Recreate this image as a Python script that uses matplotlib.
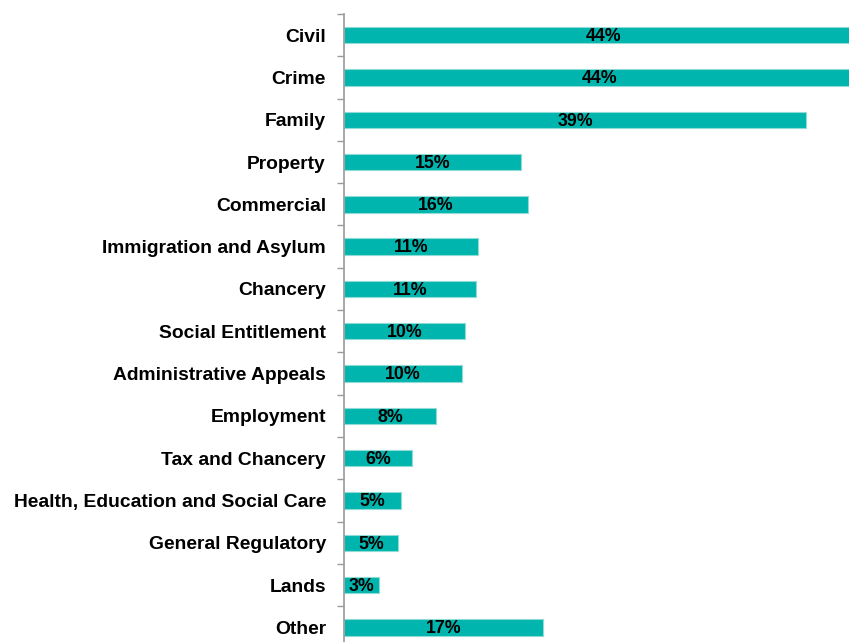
import matplotlib.pyplot as plt
import numpy as np

categories = ["Civil", "Crime", "Family", "Property", "Commercial",
              "Immigration and Asylum", "Chancery", "Social Entitlement",
              "Administrative Appeals", "Employment", "Tax and Chancery",
              "Health, Education and Social Care", "General Regulatory",
              "Lands", "Other"]
values = [44.4, 43.6, 39.5, 15.1, 15.7, 11.45, 11.3, 10.3, 10.1, 7.9,
          5.8, 4.9, 4.6, 3.0, 17.0]
labels = ["44%", "44%", "39%", "15%", "16%", "11%", "11%", "10%", "10%",
          "8%", "6%", "5%", "5%", "3%", "17%"]

plt.rcParams['font.family'] = ['Liberation Sans', 'DejaVu Sans']

fig = plt.figure(figsize=(8.49, 6.42), dpi=100)
ax_h = 634.5 / 642
ax = fig.add_axes([344 / 849, 1 - 14 / 642 - ax_h, 1 - 344 / 849, ax_h])

y = np.arange(len(categories))
ax.barh(y, values, height=0.39, color='#00b5ad', edgecolor='#8fdcd7',
        linewidth=0.8)

# value labels sit in the middle of the full bar, even where it is clipped
for yi, v, lab in zip(y, values, labels):
    ax.text(v / 2, yi + 0.03, lab, ha='center', va='center', fontsize=12.8,
            fontweight='bold', color='black', clip_on=False)

ax.set_xlim(0, 43.16)
ax.set_ylim(len(categories) - 0.5, -0.5)
ax.set_yticks(y)
ax.set_yticklabels(categories, fontsize=13.9, fontweight='bold')
ax.set_yticks(np.arange(-0.5, len(categories), 1), minor=True)
ax.tick_params(axis='y', which='major', length=0, pad=13)
ax.tick_params(axis='y', which='minor', length=5, color='#999999', width=1)
ax.set_xticks([])

for s in ['top', 'right', 'bottom']:
    ax.spines[s].set_visible(False)
ax.spines['left'].set_color('#999999')
ax.spines['left'].set_linewidth(1.2)

fig.savefig("out.png", dpi=100)
